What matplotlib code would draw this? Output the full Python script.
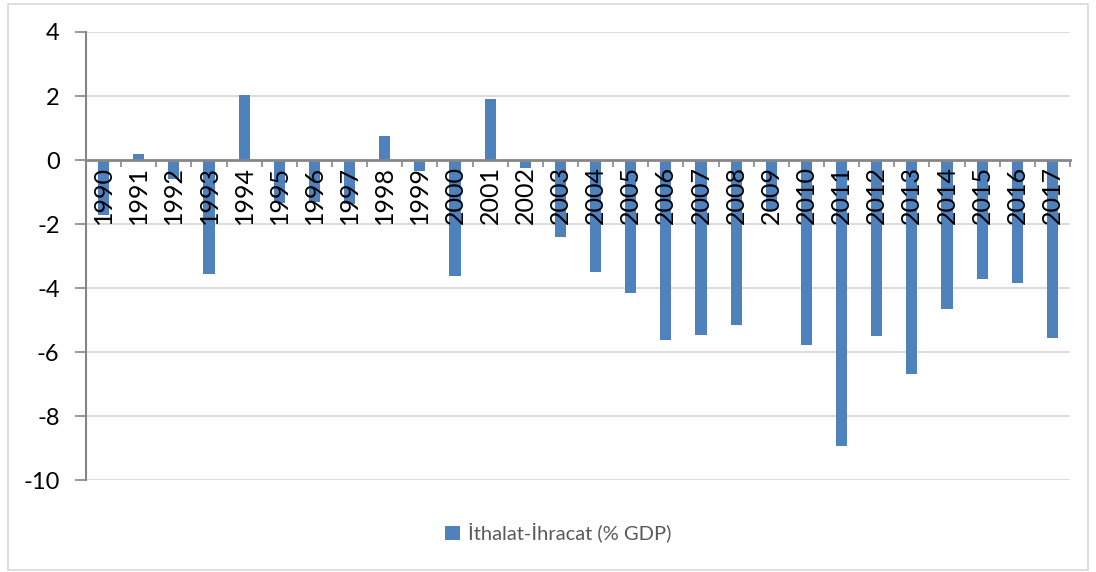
import numpy as np
import matplotlib
matplotlib.use("Agg")
import matplotlib.pyplot as plt
from matplotlib.patches import Rectangle
from matplotlib.ticker import FixedLocator, NullFormatter

years = [str(y) for y in range(1990, 2018)]
values = [-1.72, 0.18, -0.6, -3.56, 2.03, -1.35, -1.3, -1.38, 0.75, -0.35,
          -3.62, 1.9, -0.25, -2.4, -3.5, -4.17, -5.63, -5.47, -5.16, -1.55,
          -5.77, -8.93, -5.49, -6.69, -4.67, -3.72, -3.83, -5.55]
series_name = "İthalat-İhracat (% GDP)"
yticks = [4, 2, 0, -2, -4, -6, -8, -10]

plt.rcParams['font.family'] = ['Lato', 'DejaVu Sans']
plt.rcParams['axes.unicode_minus'] = False

fig = plt.figure(figsize=(10.96, 5.72), dpi=100)
ax = fig.add_axes([86/1096, 1-480/572, (1070-86)/1096, (480-32)/572])
ax.set_axisbelow(False)

x = np.arange(len(years))
for yv in yticks:
    if yv != 0:
        ax.axhline(yv, color='#d9d9d9', lw=1.3, zorder=0.5)
ax.bar(x, values, width=0.32, color='#4f81bd', label=series_name, zorder=1)

ax.set_xlim(-0.5, len(years) - 0.5)
ax.set_ylim(-10, 4)
ax.set_yticks(yticks)
ax.tick_params(axis='y', length=8, width=1.2, color='#868686', pad=11, labelsize=17)

# category axis sits on the zero line, ticks between categories
for s in ['top', 'right']:
    ax.spines[s].set_visible(False)
ax.spines['left'].set_color('#868686')
ax.spines['left'].set_linewidth(1.5)
ax.spines['bottom'].set_position(('data', 0))
ax.spines['bottom'].set_color('#868686')
ax.spines['bottom'].set_linewidth(2)
ax.xaxis.set_major_locator(FixedLocator(np.arange(-0.5, len(years), 1.0)))
ax.xaxis.set_major_formatter(NullFormatter())
ax.set_xticks(x, minor=True)
ax.set_xticklabels(years, minor=True, rotation=90, fontsize=18)
ax.tick_params(axis='x', which='minor', length=0, pad=4)
ax.tick_params(axis='x', which='major', length=5, width=1.2, color='#868686', direction='out')

leg = fig.legend(loc='center', bbox_to_anchor=(558/1096, 1-533/572), frameon=False,
                 fontsize=14.5, handlelength=0.75, handleheight=0.75, handletextpad=0.4)
for t in leg.get_texts():
    t.set_color('#595959')

fig.patches.append(Rectangle((8/1096, 2/572), 1080/1096, 566/572, transform=fig.transFigure,
                             fill=False, edgecolor='#d9d9d9', lw=1.2))

fig.savefig('out.png', dpi=100)
